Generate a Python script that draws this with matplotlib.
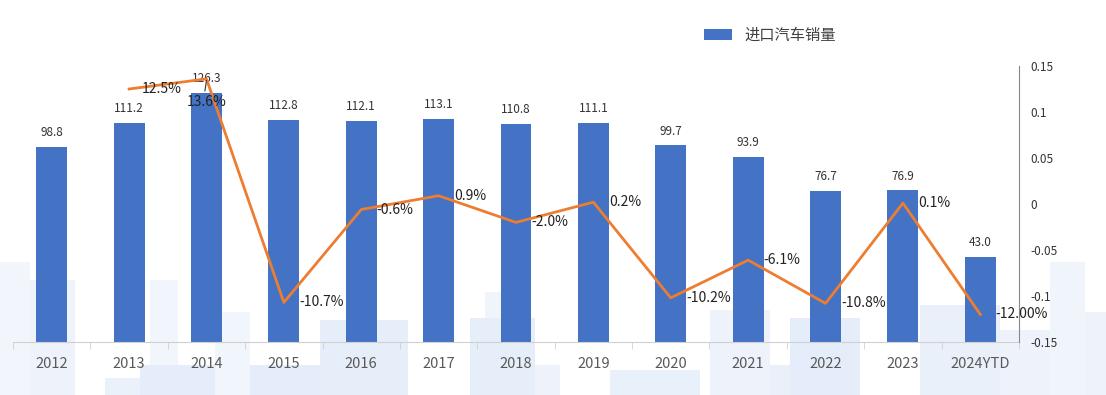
import matplotlib
matplotlib.use("Agg")
import matplotlib.pyplot as plt
from matplotlib.patches import Rectangle, Patch

plt.rcParams['font.family'] = ['Noto Sans CJK SC', 'DejaVu Sans']

categories = ['2012', '2013', '2014', '2015', '2016', '2017', '2018', '2019',
              '2020', '2021', '2022', '2023', '2024YTD']
sales = [98.8, 111.2, 126.3, 112.8, 112.1, 113.1, 110.8, 111.1, 99.7, 93.9, 76.7, 76.9, 43.0]
growth = [None, 0.125, 0.136, -0.107, -0.006, 0.009, -0.020, 0.002, -0.102, -0.061,
          -0.108, 0.001, -0.120]
growth_labels = ['', '12.5%', '13.6%', '-10.7%', '-0.6%', '0.9%', '-2.0%', '0.2%',
                 '-10.2%', '-6.1%', '-10.8%', '0.1%', '-12.00%']
right_ticks = [0.15, 0.1, 0.05, 0, -0.05, -0.1, -0.15]
right_tick_labels = ['0.15', '0.1', '0.05', '0', '-0.05', '-0.1', '-0.15']

W, H = 1106, 395
fig = plt.figure(figsize=(W / 100, H / 100), dpi=100)

# decorative light background blocks (pixel coords: x0, y0(top), x1, y1(bottom))
blocks = [(0, 262, 30, 395, '#f2f6fc'), (30, 280, 75, 395, '#eef3fb'),
          (105, 378, 150, 395, '#eaf1fb'), (150, 280, 178, 395, '#f1f5fc'),
          (140, 365, 380, 395, '#e4edf9'), (215, 312, 250, 395, '#f1f5fc'),
          (320, 320, 408, 395, '#e6eef9'), (470, 318, 535, 395, '#e6eef9'),
          (485, 292, 520, 318, '#f0f4fb'), (535, 365, 560, 395, '#eef3fb'),
          (610, 370, 700, 395, '#e8f0fa'), (710, 310, 770, 395, '#edf2fb'),
          (770, 365, 810, 395, '#e9f0fa'), (790, 318, 860, 395, '#e4edf9'),
          (920, 305, 1000, 395, '#e9f0fa'), (1000, 330, 1050, 395, '#eef3fb'),
          (1050, 262, 1085, 395, '#f0f4fb'), (1085, 312, 1106, 395, '#eef3fb')]
for x0, y0, x1, y1, c in blocks:
    fig.patches.append(Rectangle((x0 / W, 1 - y1 / H), (x1 - x0) / W, (y1 - y0) / H,
                                 transform=fig.transFigure, facecolor=c,
                                 edgecolor='none', zorder=-10))

ax = fig.add_axes([13 / W, 53 / H, (1019 - 13) / W, (342 - 66) / H])
ax.set_facecolor('none')
x = list(range(len(categories)))
bars = ax.bar(x, sales, width=0.4, color='#4472C4', zorder=2)
ax.set_ylim(0, 140)
ax.set_xlim(-0.5, len(categories) - 0.5)
for xi, v in zip(x, sales):
    ax.text(xi, v + 4, f'{v:.1f}', ha='center', va='bottom', fontsize=8.5, color='#333333')

for s in ['top', 'left', 'right']:
    ax.spines[s].set_visible(False)
ax.spines['bottom'].set_color('#d0d0d0')
ax.set_yticks([])
ax.set_xticks(x)
ax.set_xticklabels(categories, fontsize=10.5, color='#595959')
ax.tick_params(axis='x', length=0, pad=11)
ax.set_xticks([i - 0.5 for i in range(len(categories) + 1)], minor=True)
ax.tick_params(axis='x', which='minor', length=5, color='#d0d0d0')

ax2 = ax.twinx()
ax2.set_ylim(-0.15, 0.15)
gx = [xi for xi, g in zip(x, growth) if g is not None]
gy = [g for g in growth if g is not None]
ax2.plot(gx, gy, color='#ED7D31', linewidth=2, zorder=3)
for xi, g, lab in zip(x, growth, growth_labels):
    if g is None:
        continue
    if lab == '12.5%':
        ax2.text(xi + 0.17, g, lab, ha='left', va='center', fontsize=10, color='#222222')
    elif lab == '13.6%':
        ax2.plot([xi, xi - 0.02], [g - 0.002, g - 0.013], color='#333333', lw=0.8, zorder=4)
        ax2.text(xi, g - 0.025, lab, ha='center', va='center', fontsize=10, color='#222222')
    else:
        ax2.text(xi + 0.2, g, lab, ha='left', va='center', fontsize=10, color='#222222')
for s in ['top', 'left', 'bottom']:
    ax2.spines[s].set_visible(False)
ax2.spines['right'].set_color('#888888')
ax2.set_yticks(right_ticks)
ax2.set_yticklabels(right_tick_labels, fontsize=8.5, color='#333333')
ax2.tick_params(axis='y', length=0, pad=8)

fig.legend(handles=[Patch(facecolor='#4472C4', label='进口汽车销量')],
           loc='center', bbox_to_anchor=(770 / W, 1 - 35 / H), frameon=False,
           fontsize=11, handlelength=1.8, handleheight=0.7, labelcolor='#404040')

fig.savefig('out.png', dpi=100)
